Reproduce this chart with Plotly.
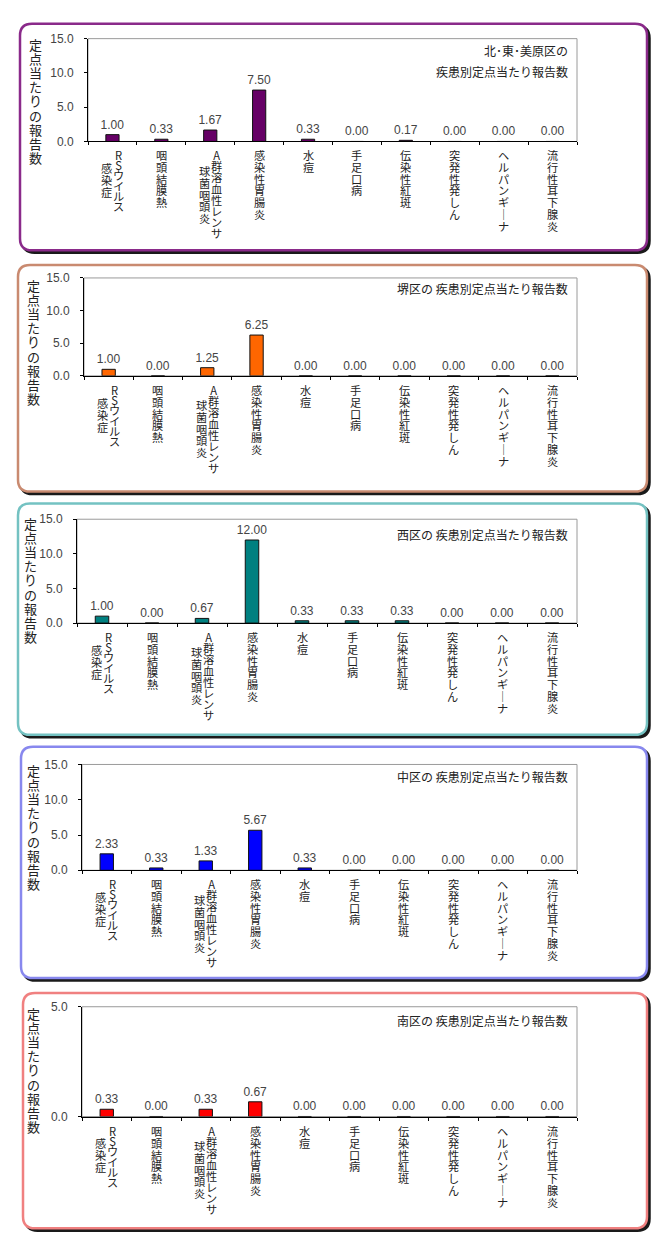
import plotly.graph_objects as go

W, H = 660, 1257

# ---------------- data ----------------
categories = ["RSウイルス感染症", "咽頭結膜熱", "A群溶血性レンサ球菌咽頭炎", "感染性胃腸炎", "水痘",
              "手足口病", "伝染性紅斑", "突発性発しん", "ヘルパンギーナ", "流行性耳下腺炎"]
label_columns = [["RSウイルス", "感染症"], ["咽頭結膜熱"], ["A群溶血性レンサ", "球菌咽頭炎"], ["感染性胃腸炎"],
                 ["水痘"], ["手足口病"], ["伝染性紅斑"], ["突発性発しん"], ["ヘルパンギーナ"], ["流行性耳下腺炎"]]

kita_higashi_mihara = [1.00, 0.33, 1.67, 7.50, 0.33, 0.00, 0.17, 0.00, 0.00, 0.00]
sakai = [1.00, 0.00, 1.25, 6.25, 0.00, 0.00, 0.00, 0.00, 0.00, 0.00]
nishi = [1.00, 0.00, 0.67, 12.00, 0.33, 0.33, 0.33, 0.00, 0.00, 0.00]
naka = [2.33, 0.33, 1.33, 5.67, 0.33, 0.00, 0.00, 0.00, 0.00, 0.00]
minami = [0.33, 0.00, 0.33, 0.67, 0.00, 0.00, 0.00, 0.00, 0.00, 0.00]

series = [kita_higashi_mihara, sakai, nishi, naka, minami]
panel_titles = [["北･東･美原区の", "疾患別定点当たり報告数"],
                ["堺区の 疾患別定点当たり報告数"],
                ["西区の 疾患別定点当たり報告数"],
                ["中区の 疾患別定点当たり報告数"],
                ["南区の 疾患別定点当たり報告数"]]
y_title = "定点当たりの報告数"
y_ranges = [[0, 15], [0, 15], [0, 15], [0, 15], [0, 5]]
y_tickvals = [[0, 5, 10, 15], [0, 5, 10, 15], [0, 5, 10, 15], [0, 5, 10, 15], [0, 5]]

# ---------------- styles / layout (pixels) ----------------
bar_colors = ["#660066", "#FF6600", "#008080", "#0000FF", "#FF0000"]
border_colors = ["#8A2A8A", "#C98A70", "#74C2C2", "#8888EE", "#F08080"]
panels = [
    dict(border=(20, 17, 647, 246), plot=(88, 32, 577, 136), ytx=35, yty=28, title_dy=[12, 33]),
    dict(border=(18, 261, 647, 490), plot=(84, 274, 577, 373), ytx=33, yty=272, title_dy=[11]),
    dict(border=(18, 502, 647, 736), plot=(77, 518, 577, 623), ytx=30, yty=513, title_dy=[15]),
    dict(border=(21, 748, 647, 982), plot=(82, 766, 577, 873), ytx=33, yty=762, title_dy=[12]),
    dict(border=(23, 997, 647, 1235), plot=(82, 1011, 577, 1122), ytx=33, yty=1008, title_dy=[14]),
]

CJK = "Noto Sans CJK JP"
NUM = "Liberation Sans"
LS = 1.3          # plotly line spacing (em)
PITCH = 11.8      # vertical pitch of category label characters
CAT_FS = 11.2     # glyph size of category label characters
YT_PITCH = 14.1
YT_FS = 13
NUM_COLOR = "#444444"


def X(px):
    return px / W


def Y(py):
    return 1 - py / H


def rounded(x0, y0, x1, y1, r):
    return (f"M {X(x0 + r)},{Y(y0)} L {X(x1 - r)},{Y(y0)} Q {X(x1)},{Y(y0)} {X(x1)},{Y(y0 + r)} "
            f"L {X(x1)},{Y(y1 - r)} Q {X(x1)},{Y(y1)} {X(x1 - r)},{Y(y1)} "
            f"L {X(x0 + r)},{Y(y1)} Q {X(x0)},{Y(y1)} {X(x0)},{Y(y1 - r)} "
            f"L {X(x0)},{Y(y0 + r)} Q {X(x0)},{Y(y0)} {X(x0 + r)},{Y(y0)} Z")


def vchar(ch):
    return "｜" if ch == "ー" else ch


def advance(ch):
    return 0.6 if ord(ch) < 128 else 1.0


def vtext(s, fs):
    return "<br>".join(f'<span style="font-size:{fs}px">{vchar(c)}</span>' for c in s)


fig = go.Figure()
shapes = []
annotations = []
layout_axes = {}

for i, (vals, p) in enumerate(zip(series, panels)):
    xa = "x" if i == 0 else f"x{i + 1}"
    ya = "y" if i == 0 else f"y{i + 1}"
    l, t, r, b = p["plot"]
    bx0, by0, bx1, by1 = p["border"]

    # panel border with shadow
    shapes.append(dict(type="path", path=rounded(bx0 + 2.5, by0 + 2.5, bx1 + 2.5, by1 + 2.5, 12),
                       xref="paper", yref="paper", line=dict(color="#1a1a1a", width=2.5),
                       fillcolor="#1a1a1a", layer="below"))
    shapes.append(dict(type="path", path=rounded(bx0, by0, bx1, by1, 12),
                       xref="paper", yref="paper", line=dict(color=border_colors[i], width=2.5),
                       fillcolor="white", layer="below"))
    # gray plot frame
    shapes.append(dict(type="rect", xref=f"{xa} domain", yref=f"{ya} domain", x0=0, x1=1, y0=0, y1=1,
                       line=dict(color="#9a9a9a", width=1), layer="below"))

    fig.add_trace(go.Bar(
        x=categories, y=vals, xaxis=xa, yaxis=ya, width=0.27,
        marker=dict(color=bar_colors[i], line=dict(color="#111111", width=1)),
        text=[f"{v:.2f}" for v in vals], textposition="outside", constraintext="none",
        textfont=dict(family=NUM, size=12, color=NUM_COLOR),
        outsidetextfont=dict(family=NUM, size=12, color=NUM_COLOR), cliponaxis=False,
        hoverinfo="skip", showlegend=False))

    layout_axes["xaxis" if i == 0 else f"xaxis{i + 1}"] = dict(
        domain=[X(l), X(r)], anchor=ya, type="category", showticklabels=False,
        tickson="boundaries", ticks="outside", ticklen=3, tickcolor="black",
        showline=True, linecolor="black", linewidth=1, showgrid=False, fixedrange=True)
    layout_axes["yaxis" if i == 0 else f"yaxis{i + 1}"] = dict(
        domain=[Y(b), Y(t)], anchor=xa, range=y_ranges[i], tickvals=y_tickvals[i], tickformat=".1f",
        ticks="outside", ticklen=3, tickcolor="black", ticklabelstandoff=8,
        tickfont=dict(family=NUM, size=12, color=NUM_COLOR),
        showline=True, linecolor="black", linewidth=1, showgrid=False, zeroline=False, fixedrange=True)

    # category labels (vertical text, one line per character)
    for j, cols in enumerate(label_columns):
        offsets = [0.0] if len(cols) == 1 else [6.0, -6.0]
        pitches = [PITCH * sum(advance(c) for c in col) / len(col) for col in cols]
        ext0 = pitches[0] * len(cols[0])
        for k, col in enumerate(cols):
            ext = pitches[k] * len(col)
            start = 0.0 if k == 0 else (ext0 - ext) / 2
            annotations.append(dict(
                text=vtext(col, CAT_FS), x=categories[j], xref=xa, y=0, yref=f"{ya} domain",
                xshift=offsets[k], yshift=-(4 + start),
                xanchor="center", yanchor="top", align="center", showarrow=False,
                font=dict(family=CJK, size=pitches[k] / LS, color="#222222")))

    # y-axis title (vertical)
    annotations.append(dict(
        text=vtext(y_title, YT_FS), x=X(p["ytx"]), xref="paper", y=Y(p["yty"] - 2), yref="paper",
        xanchor="center", yanchor="top", align="center", showarrow=False,
        font=dict(family=CJK, size=YT_PITCH / LS, color="#222222")))

    # panel title
    for line, dy in zip(panel_titles[i], p["title_dy"]):
        annotations.append(dict(
            text=line, x=1, xref=f"{xa} domain", xshift=-7, y=1, yref=f"{ya} domain", yshift=-dy,
            xanchor="right", yanchor="middle", showarrow=False,
            font=dict(family=CJK, size=12, color="#222222")))

fig.update_layout(
    width=W, height=H, margin=dict(l=0, r=0, t=0, b=0, pad=0),
    paper_bgcolor="white", plot_bgcolor="rgba(0,0,0,0)",
    shapes=shapes, annotations=annotations, bargap=0.7,
    **layout_axes)

page_fix = ("var d=document.documentElement,b=document.body;"
            "d.style.margin='0';d.style.padding='0';d.style.overflow='hidden';"
            "b.style.margin='0';b.style.padding='0';b.style.overflow='hidden';")
fig.write_html("out.html", config={"displayModeBar": False}, post_script=page_fix)
